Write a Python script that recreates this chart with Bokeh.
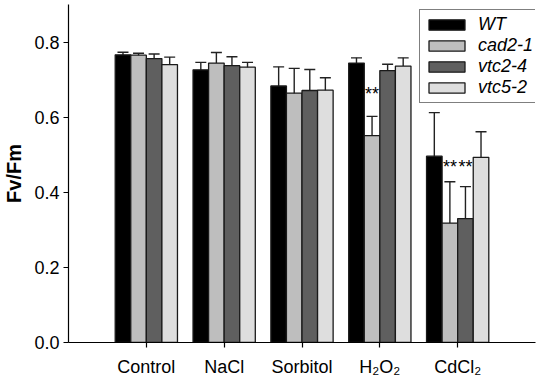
from bokeh.plotting import figure
from bokeh.models import (ColumnDataSource, Whisker, TeeHead, Legend, LegendItem,
                          FixedTicker, Range1d, CustomJSTickFormatter)
from bokeh.core.properties import value
from bokeh.embed import file_html
from bokeh.resources import INLINE

treatments = ["Control", "NaCl", "Sorbitol", "H\u2082O\u2082", "CdCl\u2082"]
genotypes = ["WT", "cad2-1", "vtc2-4", "vtc5-2"]
colors = ["#000000", "#bebebe", "#5f5f5f", "#dedede"]

wt = [0.766, 0.726, 0.683, 0.744, 0.496]
wt_err = [0.007, 0.020, 0.051, 0.014, 0.116]
cad = [0.765, 0.744, 0.664, 0.551, 0.318]
cad_err = [0.005, 0.028, 0.066, 0.051, 0.110]
vtc2 = [0.756, 0.737, 0.671, 0.724, 0.330]
vtc2_err = [0.012, 0.024, 0.056, 0.017, 0.085]
vtc5 = [0.740, 0.733, 0.672, 0.736, 0.493]
vtc5_err = [0.020, 0.013, 0.033, 0.022, 0.068]

means = [wt, cad, vtc2, vtc5]
errs = [wt_err, cad_err, vtc2_err, vtc5_err]
offsets = [-0.3, -0.1, 0.1, 0.3]
bar_width = 0.2

# significance markers: (treatment index, genotype index, y position)
star_treat = [3, 4, 4]
star_geno = [1, 1, 2]
star_y = [0.663, 0.466, 0.466]

FONT = "Liberation Sans"

p = figure(width=550, height=381, output_backend="svg", toolbar_location=None,
           x_range=Range1d(0, 6), y_range=Range1d(0, 0.9),
           min_border_left=67, min_border_right=15, min_border_top=4,
           min_border_bottom=39)
p.outline_line_color = None
p.grid.visible = False
p.background_fill_color = "white"

renderers = []
for g in range(4):
    xs = [i + 1 + offsets[g] for i in range(5)]
    src = ColumnDataSource(dict(x=xs, top=means[g],
                                upper=[m + e for m, e in zip(means[g], errs[g])],
                                lower=[m - e for m, e in zip(means[g], errs[g])]))
    r = p.vbar(x="x", top="top", bottom=0, width=bar_width, source=src,
               fill_color=colors[g], line_color="#1a1a1a", line_width=1.3)
    renderers.append(r)
    w = Whisker(base="x", upper="upper", lower="lower", source=src,
                line_color="#222222", line_width=1.4,
                upper_head=TeeHead(size=11, line_color="#222222", line_width=1.4),
                lower_head=TeeHead(size=11, line_color="#222222", line_width=1.4))
    p.add_layout(w)

sx = [star_treat[k] + 1 + offsets[star_geno[k]] for k in range(len(star_treat))]
p.text(x=sx, y=star_y, text=["**"] * len(sx), text_align="center",
       text_baseline="middle", text_font=value(FONT), text_font_size="18px",
       text_color="#000000")

# axes
p.xaxis.ticker = FixedTicker(ticks=[1, 2, 3, 4, 5])
p.xaxis.major_label_overrides = {i + 1: t for i, t in enumerate(treatments)}
p.yaxis.ticker = FixedTicker(ticks=[0.0, 0.2, 0.4, 0.6, 0.8])
p.yaxis.formatter = CustomJSTickFormatter(code="return tick.toFixed(1);")
for ax in (p.xaxis, p.yaxis):
    ax.axis_line_color = "#000000"
    ax.axis_line_width = 1.2
    ax.major_tick_line_color = "#000000"
    ax.major_tick_line_width = 1.2
    ax.major_tick_out = 5
    ax.major_tick_in = 0
    ax.minor_tick_line_color = None
    ax.major_label_text_font = FONT
    ax.major_label_text_font_size = "18px"
    ax.major_label_text_color = "#000000"
p.xaxis.major_label_standoff = 9
p.yaxis.major_label_standoff = 4
p.yaxis.axis_label = "Fv/Fm"
p.yaxis.axis_label_text_font = FONT
p.yaxis.axis_label_text_font_size = "20px"
p.yaxis.axis_label_text_font_style = "bold"
p.yaxis.axis_label_text_color = "#000000"
p.yaxis.axis_label_standoff = 6

legend = Legend(items=[LegendItem(label=genotypes[g], renderers=[renderers[g]])
                       for g in range(4)],
                location=(351, 239))
legend.label_text_font = FONT
legend.label_text_font_size = "18px"
legend.label_text_font_style = "italic"
legend.label_text_color = "#000000"
legend.glyph_width = 45
legend.glyph_height = 13
legend.label_standoff = 9
legend.label_height = 20
legend.label_width = 62
legend.spacing = -2
legend.padding = 4
legend.margin = 0
legend.border_line_color = "#000000"
legend.border_line_width = 1.2
legend.background_fill_alpha = 1.0
p.add_layout(legend, "center")

open("out.html", "w").write(file_html(p, INLINE))
